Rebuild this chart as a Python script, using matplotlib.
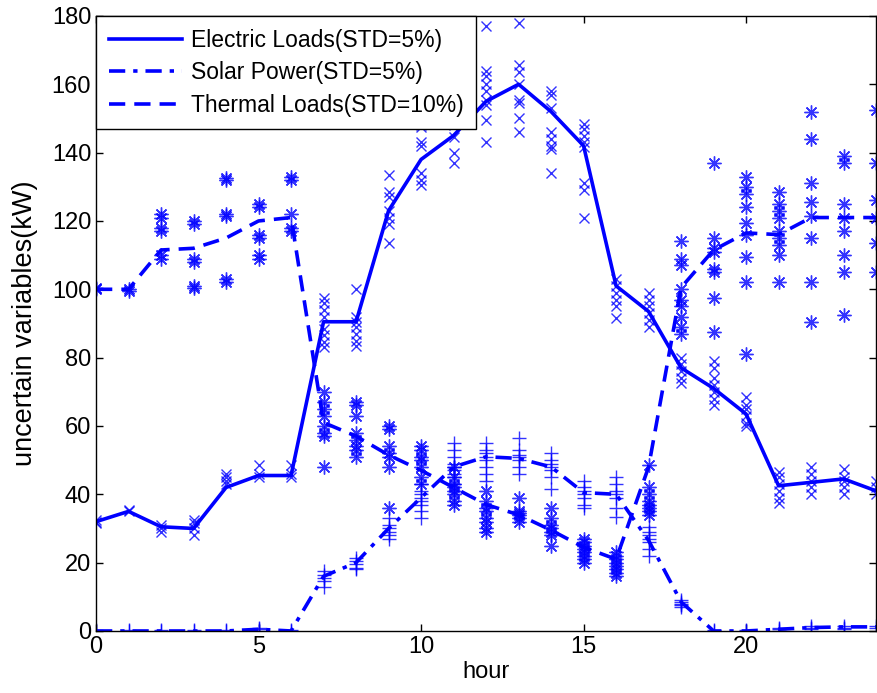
import numpy as np
import matplotlib
matplotlib.use("Agg")
from matplotlib import pyplot as plt

plt.rcParams['font.family'] = ['Liberation Sans', 'DejaVu Sans']

hours = list(range(25))

# mean curves
electric = [32, 35, 30.5, 30, 42, 45.5, 45.5, 90.5, 90.5, 123, 138, 145, 155, 160,
            152, 142, 101, 93.5, 77, 71, 63.5, 42.5, 43.5, 44.5, 41]
solar = [0, 0, 0, 0, 0, 0.5, 0, 16, 20, 30, 39, 48, 51, 50.5,
         48, 40.5, 40, 26.5, 8.5, 0, 0, 0.5, 1, 1.2, 1.2]
thermal = [100, 100, 111.5, 112, 115, 120, 121, 61, 57, 51.5, 47, 42, 37, 34,
           29.5, 24.5, 21, 48, 100.5, 111.5, 116.5, 116, 121, 121, 121]

# sampled points (one list per hour)
electric_samples = [
    [32, 31.5, 32.5], [35, 35.5], [31, 30, 29], [32.5, 31.5, 30, 28],
    [46, 45, 44, 43], [48.5, 46, 45], [48.5, 46, 45],
    [97.5, 96, 94, 92, 88.5, 86.5, 84.5, 83], [100, 92, 90.5, 89, 87, 85, 83.5],
    [133.5, 128.5, 127, 123, 121, 119, 113.5], [148, 147.5, 143, 142, 134, 132, 130.5],
    [153, 150, 148, 144.5, 140, 137], [177, 164, 162.5, 160, 158, 155.5, 154, 149.5, 143],
    [178, 165.5, 163.5, 160, 155.5, 154.5, 150, 146], [158, 157, 153, 146, 144, 142, 141, 134],
    [148.5, 147, 145, 143, 141.5, 131, 129, 121], [103, 101, 99, 97, 95, 91.5],
    [99, 97, 95, 93, 91, 89], [80, 78, 76, 74, 72.5],
    [79, 77, 74, 72, 70, 68, 66], [68.5, 66, 65, 63, 61, 60],
    [46.5, 45, 43, 41, 39, 37.5], [48, 46, 44, 42, 40],
    [47.5, 45, 44, 42, 40], [44, 42, 40],
]
solar_samples = [
    [0, 0.3], [0, 0.3], [0, 0.3], [0, 0.3], [0, 0.3], [1, 0.5, 0], [0, 0.3],
    [17.5, 16.5, 15.5, 14.5, 13], [21.5, 20.5, 19.5, 18.5, 18],
    [33, 31, 30, 29, 28, 27], [43, 41, 40, 39, 38, 37, 35, 33],
    [55, 53, 51, 49, 48, 47, 46, 45, 43], [55, 53, 52, 51, 50, 48, 46, 44],
    [56.5, 53, 51.5, 51, 50, 48, 46], [52, 50, 49, 48, 47, 45, 41.5],
    [44, 42, 41, 40, 39, 37, 36], [45, 43, 41, 40, 39, 36, 33.5],
    [30.5, 29, 28, 27, 26, 24, 22], [9, 8.5, 8, 7.5, 7],
    [0, 0.3], [0, 0.3], [0.5, 1, 0], [1, 1.5, 0.5], [1, 1.5, 0.5], [1, 1.5],
]
thermal_samples = [
    [100, 100.5], [100, 99.5], [122, 121, 118, 117, 110, 109], [120, 119, 109, 108, 101, 100.5],
    [132.5, 132, 122, 121.5, 103, 102], [125, 124, 116, 115, 110, 109], [133, 132, 122, 118, 117],
    [70, 67, 65, 63, 60, 58, 57, 48], [67, 66, 63, 58, 56, 54, 53, 51],
    [60, 59, 54, 52, 51, 48, 36], [54, 53, 51, 50, 48, 45, 43],
    [48, 45, 43, 42, 41, 40, 38, 37], [41, 38, 36, 35, 33, 32, 30, 29],
    [39, 35, 34.5, 34, 33, 32], [36, 33, 31, 30, 29, 28, 25],
    [27, 26, 25, 24, 23, 22, 21, 20], [23, 22, 21, 20, 19, 18, 17, 16],
    [48.5, 42, 40, 38, 37, 36, 35, 34], [114, 109, 107, 100, 97, 95, 92, 89, 87],
    [137, 115, 112, 111, 106, 105, 97.5, 87.5], [133, 130, 128, 124, 119.5, 116, 109.5, 102, 81],
    [128.5, 125, 123, 121, 117, 115, 113, 110, 102], [152, 144, 131, 125.5, 121.5, 115, 102, 90.5],
    [139, 137, 125, 121, 117, 110, 105, 92.5], [152.5, 137, 126, 121, 113.5, 105],
]

blue = '#0000ff'
asterisk = (8, 2, 0)

fig = plt.figure(figsize=(8.77, 6.93), dpi=100)
ax = fig.add_axes([0.1095, 0.0895, 0.8895, 0.8875])

for h in hours:
    ax.plot([h] * len(electric_samples[h]), electric_samples[h], 'x', color=blue,
            markersize=7, markeredgewidth=1.0, alpha=0.8)
    ax.plot([h] * len(solar_samples[h]), solar_samples[h], '+', color=blue,
            markersize=10, markeredgewidth=1.0, alpha=0.8)
    ax.plot([h] * len(thermal_samples[h]), thermal_samples[h], marker=asterisk, linestyle='none',
            color=blue, markersize=10, markeredgewidth=1.0, alpha=0.8)

ax.plot(hours, electric, '-', color=blue, linewidth=2.6, label='Electric Loads(STD=5%)')
ax.plot(hours, solar, color=blue, linewidth=2.6, dashes=(4.5, 2.2, 1.2, 2.2),
        label='Solar Power(STD=5%)')
ax.plot(hours, thermal, color=blue, linewidth=2.6, dashes=(4.5, 2.5),
        label='Thermal Loads(STD=10%)')

ax.set_xlim(0, 24)
ax.set_ylim(0, 180)
ax.set_xticks([0, 5, 10, 15, 20])
ax.set_yticks(range(0, 181, 20))
ax.tick_params(direction='in', top=True, right=True, labelsize=17, length=5, width=1)
ax.set_xlabel('hour', fontsize=17, labelpad=2)
ax.set_ylabel('uncertain variables(kW)', fontsize=19.5, labelpad=10)
for s in ax.spines.values():
    s.set_linewidth(1)

leg = ax.legend(loc='upper left', fontsize=16.5, frameon=True, fancybox=False,
                borderaxespad=0, handlelength=3.2, edgecolor='black',
                borderpad=0.55, labelspacing=0.42, handletextpad=0.4)
leg.get_frame().set_linewidth(1)
leg.get_frame().set_alpha(1)

fig.savefig('out.png', dpi=100)
